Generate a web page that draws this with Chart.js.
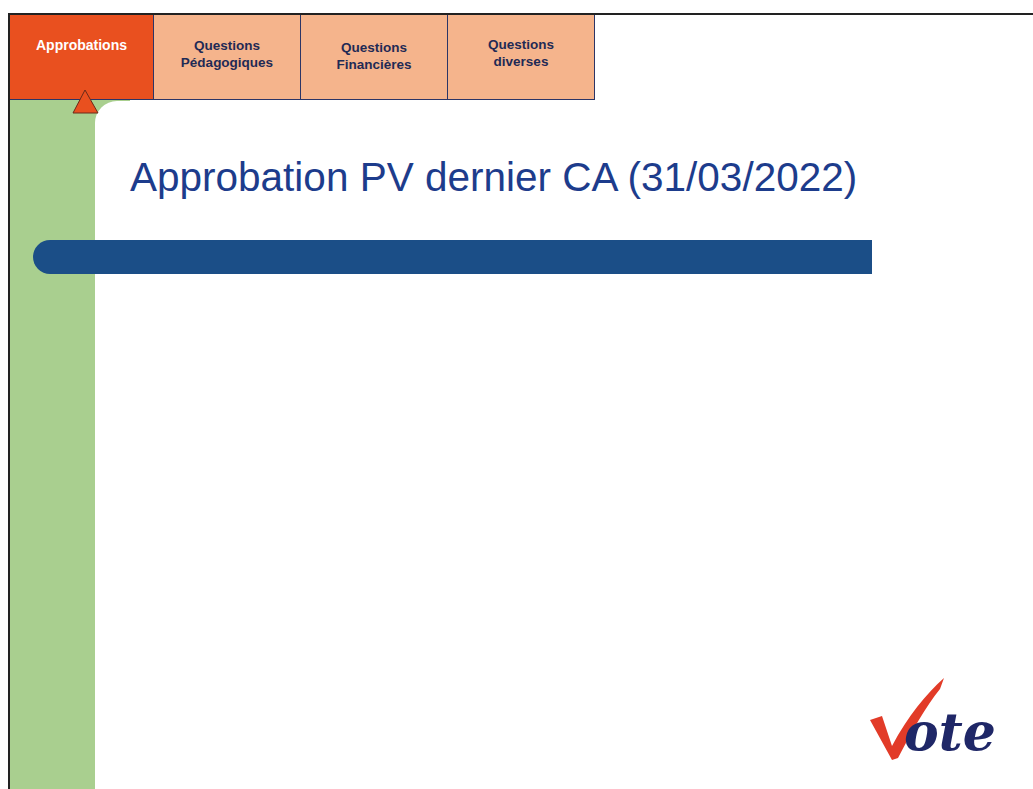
<!DOCTYPE html>
<html>
<head>
<meta charset="utf-8">
<script src="https://cdn.jsdelivr.net/npm/chart.js@4.4.0/dist/chart.umd.min.js"></script>
<style>
  html, body { margin: 0; padding: 0; background: #fff; }
  body { width: 1033px; height: 789px; position: relative; overflow: hidden; font-family: "Liberation Sans", Arial, sans-serif; }
  .topline { position: absolute; left: 8px; top: 13px; width: 1025px; height: 2px; background: #222; }
  .leftline { position: absolute; left: 8px; top: 13px; width: 2px; height: 776px; background: #222; }
  .green { position: absolute; left: 10px; top: 100px; width: 120px; height: 689px; background: #a9cf8f; }
  .white { position: absolute; left: 95px; top: 101px; width: 938px; height: 688px; background: #fff; border-top-left-radius: 22px; }
  .tab { position: absolute; top: 15px; height: 85px; box-sizing: border-box; border-right: 1.5px solid #2c3566; border-bottom: 1.5px solid #2c3566;
         background: #f5b48c; color: #1f2a55; font-weight: bold; font-size: 13.5px; text-align: center; line-height: 17px; padding-top: 22px; }
  .tab.active { background: #e9501f; color: #fff; padding-top: 22px; font-size: 14px; }
  .title { position: absolute; left: 130px; top: 154px; font-size: 40.5px; color: #1d3c8c; white-space: nowrap; }
  .bar { position: absolute; left: 33px; top: 240px; width: 839px; height: 34px; background: #1b4e87; border-radius: 17px 0 0 17px; }
  #chartBox { position: absolute; left: 110px; top: 290px; width: 880px; height: 370px; }
  .logo { position: absolute; left: 868px; top: 676px; }
</style>
</head>
<body>
<div class="topline"></div>
<div class="green"></div>
<div class="white"></div>
<div class="leftline"></div>

<div class="tab active" style="left:10px;width:144px;">Approbations</div>
<div class="tab" style="left:154px;width:147px;">Questions<br>Pédagogiques</div>
<div class="tab" style="left:301px;width:147px;padding-top:24px;">Questions<br>Financières</div>
<div class="tab" style="left:448px;width:147px;padding-top:21px;">Questions<br>diverses</div>

<svg style="position:absolute;left:70px;top:88px;" width="32" height="28">
  <polygon points="15,2 3,25 28,25" fill="#e9501f" stroke="#6a2a1a" stroke-width="1"/>
</svg>

<div class="title">Approbation PV dernier CA (31/03/2022)</div>
<div class="bar"></div>

<div id="chartBox"><canvas id="chart"></canvas></div>

<svg class="logo" width="150" height="90">
  <path d="M2,44 L14,40 L24,70 C40,40 58,18 76,2 L72,13 C58,30 44,55 30,82 L24,84 Z" fill="#e23b28"/>
  <text x="36" y="74" font-family="DejaVu Serif" font-weight="bold" font-style="italic" font-size="52" fill="#1f2767">ote</text>
</svg>

<script>
// the slide shows no plotted results yet: empty lists
let categories = [];
let votes = [];

let chart = document.getElementById("chart").getContext("2d");
let voteChart = new Chart(chart, {
  type: "bar",
  data: {
    labels: categories,
    datasets: [
      {
        label: "votes",
        data: votes,
        backgroundColor: "#1b4e87",
      },
    ],
  },
  options: {
    responsive: true,
    maintainAspectRatio: false,
    animation: false,
    scales: {
      x: { display: false },
      y: { display: false },
    },
    plugins: {
      legend: { display: false },
      tooltip: { enabled: false },
    },
  },
});
</script>
</body>
</html>
